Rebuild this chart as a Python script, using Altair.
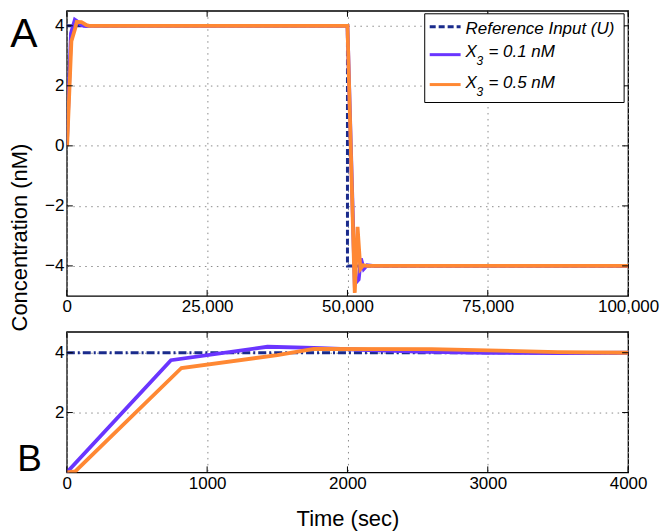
import altair as alt
import pandas as pd

FONT = "Liberation Sans"

# ---------------- data ----------------
series_names = ["Reference Input (U)", "X3 = 0.1 nM", "X3 = 0.5 nM"]
panel_labels = ["A", "B"]

ref_t = [0, 50000, 50000, 100000]
ref_c = [4.0, 4.0, -4.0, -4.0]

# X3 = 0.1 nM (purple)
p_t = [0, 742, 1430, 1760, 2100, 2500, 3000, 3500, 4000,
       50000, 51300, 52000, 52400, 52900, 53500, 54500, 100000]
p_c = [0.0, 3.75, 4.2, 4.16, 4.1, 4.04, 4.0, 3.99, 4.0,
       4.0, -4.6, -4.45, -3.75, -4.1, -3.98, -4.0, -4.0]

# X3 = 0.5 nM (orange)
o_t = [0, 60, 817, 1500, 1760, 2600, 3000, 3500, 4000,
       50000, 51300, 51800, 52300, 52800, 53500, 100000]
o_c = [0.0, 0.03, 3.49, 3.92, 4.13, 4.12, 4.08, 4.02, 4.0,
       4.0, -4.9, -2.7, -4.1, -3.98, -4.0, -4.0]

top_x_ticks = [0, 25000, 50000, 75000, 100000]
top_y_ticks = [-4, -2, 0, 2, 4]
bot_x_ticks = [0, 1000, 2000, 3000, 4000]
bot_y_ticks = [2, 4]

colors = ["#1a2b8c", "#6a35ff", "#ff8833"]

# ---------------- frames ----------------
def frame(t, c, name):
    return pd.DataFrame({"t": t, "c": c, "series": name, "i": list(range(len(t)))})

df_ref = frame(ref_t, ref_c, series_names[0])
df_p = frame(p_t, p_c, series_names[1])
df_o = frame(o_t, o_c, series_names[2])

W, H1, H2, GAP = 563, 286, 141, 36

def axis(values, fmt, title=None, **kw):
    base = dict(values=values, format=fmt, domain=False, ticks=False,
                labelFont=FONT, labelFontSize=17, labelColor="black",
                labelPadding=3, grid=True, gridColor="#8a8a8a",
                gridDash=[1.5, 4.5], gridWidth=1, labelFlush=False,
                titleFont=FONT, titleFontSize=22, titleFontWeight="normal",
                titleColor="black")
    base.update(kw)
    base["title"] = title
    return alt.Axis(**base)


def edge_ticks(values, which, xenc, yenc, H, W, L=6):
    df = pd.DataFrame({"t": values, "c": values})
    base = alt.Chart(df).mark_rule(color="black", strokeWidth=1)
    if which == "x":
        return [
            base.encode(x=xenc, y=alt.value(H), y2=alt.value(H - L)),
            base.encode(x=xenc, y=alt.value(0), y2=alt.value(L)),
        ]
    return [
        base.encode(y=yenc, x=alt.value(0), x2=alt.value(L)),
        base.encode(y=yenc, x=alt.value(W), x2=alt.value(W - L)),
    ]


def line(df, xenc, yenc, color, width, dash=None):
    kw = dict(color=color, strokeWidth=width, clip=True)
    if dash:
        kw["strokeDash"] = dash
    return alt.Chart(df).mark_line(**kw).encode(x=xenc, y=yenc, order=alt.Order("i:Q"))


def txt(s, x, y, size, italic=False, align="left"):
    kw = dict(font=FONT, fontSize=size, align=align, baseline="alphabetic", color="black")
    if italic:
        kw["fontStyle"] = "italic"
    return alt.Chart(pd.DataFrame({"s": [s]})).mark_text(**kw).encode(
        x=alt.value(x), y=alt.value(y), text="s:N")


def seg(x1, x2, y, color, width, dash=None):
    kw = dict(color=color, strokeWidth=width)
    if dash:
        kw["strokeDash"] = dash
    return alt.Chart(pd.DataFrame({"k": [0]})).mark_rule(**kw).encode(
        x=alt.value(x1), x2=alt.value(x2), y=alt.value(y))

# ---------------- top panel ----------------
xs_top = alt.Scale(domain=[0, 100000], nice=False, zero=False)
ys_top = alt.Scale(domain=[-5, 4.5], nice=False, zero=False)

x_top = alt.X("t:Q", scale=xs_top, axis=axis(top_x_ticks, ",.0f"))
y_top = alt.Y("c:Q", scale=ys_top,
              axis=axis(top_y_ticks, "d", "Concentration (nM)", titleAngle=270,
                        titleBaseline="top", titleAlign="center", titleX=-57, titleY=227))

# legend (drawn inside the top panel, 4px from its right border)
LX0 = W - 204
LX1, LY0, LY1 = LX0 + 200, 3, 92
legend_box = alt.Chart(pd.DataFrame({"k": [0]})).mark_rect(
    fill="white", stroke="black", strokeWidth=1
).encode(x=alt.value(LX0), x2=alt.value(LX1), y=alt.value(LY0), y2=alt.value(LY1))

rows_y = [16, 44, 74]
legend_layers = [
    legend_box,
    seg(LX0 + 5, LX0 + 36, rows_y[0], colors[0], 3, [6, 3]),
    seg(LX0 + 5, LX0 + 36, rows_y[1], colors[1], 3),
    seg(LX0 + 5, LX0 + 36, rows_y[2], colors[2], 3),
    txt(series_names[0], LX0 + 41, 23, 17, italic=True),
]
for k, yb in ((1, 46), (2, 77)):
    main, rest = series_names[k].split("3", 1)
    legend_layers += [
        txt(main.strip(), LX0 + 41, yb, 17, italic=True),
        txt("3", LX0 + 52, yb + 8, 12, italic=True),
        txt(rest.strip(), LX0 + 64, yb, 17, italic=True),
    ]

top = alt.layer(
    line(df_ref, x_top, y_top, colors[0], 3, [6, 3]),
    line(df_p, x_top, y_top, colors[1], 3.8),
    line(df_o, x_top, y_top, colors[2], 3.8),
    *edge_ticks(top_x_ticks, "x", x_top, y_top, H1, W),
    *edge_ticks(top_y_ticks, "y", x_top, y_top, H1, W),
    *legend_layers,
    txt(panel_labels[0], -43, 36, 41, align="center"),
).properties(width=W, height=H1)

# ---------------- bottom panel ----------------
xs_bot = alt.Scale(domain=[0, 4000], nice=False, zero=False)
ys_bot = alt.Scale(domain=[0, 4.7], nice=False, zero=False)

x_bot = alt.X("t:Q", scale=xs_bot,
              axis=axis(bot_x_ticks, "d", "Time (sec)", titleY=53, titleBaseline="alphabetic"))
y_bot = alt.Y("c:Q", scale=ys_bot, axis=axis(bot_y_ticks, "d"))

bottom = alt.layer(
    line(df_ref, x_bot, y_bot, colors[0], 3, [8, 3, 2, 3]),
    line(df_p, x_bot, y_bot, colors[1], 3.8),
    line(df_o, x_bot, y_bot, colors[2], 3.8),
    *edge_ticks(bot_x_ticks, "x", x_bot, y_bot, H2, W),
    *edge_ticks(bot_y_ticks, "y", x_bot, y_bot, H2, W),
    txt(panel_labels[1], -37.5, 140, 37, align="center"),
).properties(width=W, height=H2)

chart = alt.vconcat(top, bottom, spacing=GAP, bounds="flush",
                    padding={"left": 0, "top": 0, "right": 0, "bottom": 0},
                    background="white"
).resolve_scale(x="independent", y="independent"
).configure_view(stroke="black", strokeWidth=1.3)

chart.save("out.html", embed_options={"renderer": "svg", "actions": False})
